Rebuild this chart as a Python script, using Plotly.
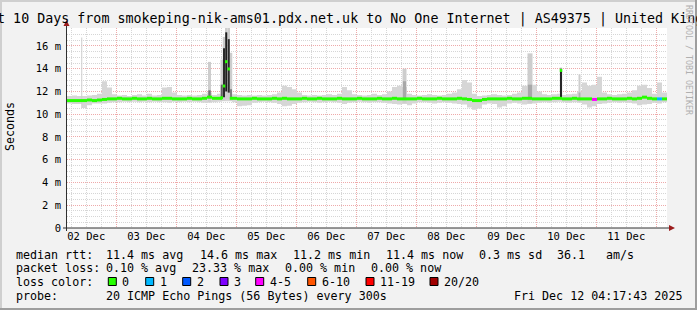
import pandas as pd
import plotly.graph_objects as go

# ---------------- data ----------------
T_START = pd.Timestamp("2025-12-02 04:17:43")
T_END = pd.Timestamp("2025-12-12 04:17:43")
BUCKET_HOURS = 2  # each value below covers a 2 hour consolidation step

# median rtt per 2h bucket (ms); None where the value is given by a spike row below
median_ms = [
    11.2, 11.2, 11.2, 11.2, 11.25, 11.2, 11.25, 11.3, 11.35, 11.35,
    11.4, 11.35, 11.35, 11.4, 11.35, 11.35, 11.4, 11.35, 11.35, 11.4,
    11.4, 11.35, 11.35, 11.35, 11.4, 11.35, 11.35, 11.4, 11.5, 11.4,
    11.4, None, None, 11.4, 11.35, 11.35, 11.35, 11.4, 11.35, 11.35,
    11.35, 11.4, 11.35, 11.4, 11.35, 11.35, 11.35, 11.4, 11.35, 11.35,
    11.4, 11.35, 11.35, 11.35, 11.4, 11.35, 11.35, 11.35, 11.4, 11.35,
    11.35, 11.35, 11.4, 11.35, 11.35, 11.4, 11.35, 11.35, 11.35, 11.35,
    11.4, 11.35, 11.35, 11.35, 11.4, 11.35, 11.35, 11.35, 11.4, 11.35,
    11.3, 11.2, 11.2, 11.3, 11.35, 11.35, 11.35, 11.35, 11.4, 11.35,
    11.35, 11.4, 11.4, 11.35, 11.35, 11.35, 11.35, 11.4, 11.4, 11.35,
    11.35, 11.4, 11.35, 11.35, 11.35, 11.3, 11.35, 11.35, 11.4, 11.35,
    11.35, 11.35, 11.4, 11.35, 11.4, 11.5, 11.4, 11.35, 11.35, 11.35,
]

# lowest / highest of the 20 pings per bucket (ms)
smoke_lo_ms = [
    10.95, 10.9, 10.9, 10.55, 10.8, 10.95, 10.95, 10.95, 11.0, 11.05,
    11.05, 11.1, 11.05, 11.1, 11.05, 11.1, 11.05, 11.1, 11.05, 11.05,
    11.0, 11.1, 11.05, 11.1, 11.05, 11.1, 11.05, 11.0, 11.0, 11.05,
    11.1, 11.15, 11.15, 11.05, 10.7, 10.75, 10.8, 11.0, 11.05, 11.1,
    11.05, 11.0, 10.9, 10.7, 10.75, 10.9, 11.0, 11.05, 11.1, 11.05,
    11.0, 11.05, 11.1, 11.05, 11.0, 10.9, 11.0, 11.05, 11.1, 11.05,
    11.0, 11.05, 11.05, 11.0, 10.95, 10.9, 10.85, 10.9, 10.8, 10.95,
    11.05, 11.05, 11.0, 10.95, 11.0, 11.05, 11.0, 10.95, 10.9, 10.85,
    10.6, 10.4, 10.5, 10.85, 10.95, 10.9, 10.6, 10.7, 10.95, 11.0,
    10.95, 10.85, 10.9, 10.95, 11.0, 11.05, 11.0, 11.05, 11.1, 11.05,
    11.0, 11.05, 11.0, 10.85, 10.6, 10.7, 10.9, 10.95, 11.0, 11.05,
    11.0, 11.05, 11.0, 10.95, 10.8, 10.85, 10.9, 11.0, 10.95, 11.05,
]
smoke_hi_ms = [
    11.6, 11.65, 11.6, 11.6, 11.65, 11.7, 11.8, 12.9, 12.35, 11.75,
    11.65, 11.7, 11.6, 11.7, 11.75, 11.65, 11.8, 11.65, 11.7, 12.35,
    12.4, 11.9, 11.7, 11.65, 11.7, 11.65, 11.7, 11.8, 11.9, 11.7,
    11.8, 11.9, 11.9, 11.75, 11.7, 11.65, 11.7, 11.65, 11.7, 11.65,
    11.7, 11.75, 11.9, 12.5, 12.4, 12.2, 11.9, 11.7, 11.65, 11.7,
    11.65, 11.7, 11.75, 11.7, 11.8, 12.4, 12.1, 11.75, 11.7, 11.65,
    11.7, 11.8, 11.7, 11.75, 12.0, 12.4, 12.5, 12.4, 11.8, 11.7,
    11.65, 11.7, 11.75, 11.7, 11.65, 11.7, 11.8, 11.9, 12.2, 13.0,
    12.8, 11.8, 11.6, 11.65, 11.7, 11.75, 11.7, 11.65, 11.7, 11.8,
    11.9, 12.5, 12.6, 12.6, 12.0, 11.75, 11.7, 11.75, 11.8, 11.7,
    11.75, 11.8, 12.0, 12.8, 12.5, 12.6, 13.3, 11.9, 11.75, 11.7,
    11.75, 11.8, 11.9, 12.1, 12.5, 12.6, 12.3, 11.8, 12.8, 11.9,
]

# lost pings (of 20) for the buckets that had loss
loss_bucket = [105, 118]
loss_pings = [5, 1]

# short spikes: hour offset from start, duration (h), ping range, dense core, median
spike_hour = [5.9, 57.0, 61.9, 62.8, 63.7, 64.7, 65.6, 135.0, 185.2, 197.6, 205.0]
spike_dur_h = [0.4, 1.2, 1.0, 1.0, 1.0, 1.0, 1.0, 1.6, 2.0, 1.0, 0.8]
spike_lo_ms = [10.55, 11.1, 11.2, 11.2, 11.3, 11.3, 11.2, 11.0, 11.0, 11.4, 11.1]
spike_hi_ms = [16.75, 14.6, 14.8, 16.8, 17.6, 17.6, 15.4, 14.0, 15.35, 14.1, 13.5]
spike_core_lo_ms = [None, 11.4, 11.4, 11.5, 12.0, 11.9, 11.4, 11.3, 11.3, 11.4, 11.3]
spike_core_hi_ms = [None, 12.1, 12.6, 15.8, 17.2, 16.6, 12.2, 12.9, 12.6, 14.0, 11.9]
spike_median_ms = [None, None, 11.45, 12.48, 14.62, 13.98, 11.4, None, None, 13.85, None]

y_tick_vals = [0, 2, 4, 6, 8, 10, 12, 14, 16]
y_tick_text = ["0", "2 m", "4 m", "6 m", "8 m", "10 m", "12 m", "14 m", "16 m"]

title_text = ("Last 10 Days from smokeping-nik-ams01.pdx.net.uk to No One Internet "
              "| AS49375 | United Kingdom")
stats_rtt = ["median rtt:", "11.4 ms avg", "14.6 ms max", "11.2 ms min",
             "11.4 ms now", "0.3 ms sd", "36.1", "am/s"]
stats_loss = ["packet loss:", "0.10 % avg", "23.33 % max", "0.00 % min", "0.00 % now"]
loss_labels = ["0", "1", "2", "3", "4-5", "6-10", "11-19", "20/20"]
loss_colors = ["#26ff00", "#00b8ff", "#0059ff", "#7e00ff", "#ff00ff", "#ff5500", "#ff0000", "#a10000"]
probe_text = "20 ICMP Echo Pings (56 Bytes) every 300s"
stamp_text = "Fri Dec 12 04:17:43 2025"

# ---------------- styles ----------------
spike_core_shade = [None, "#707070", "#606060", "#2a2a2a", "#1e1e1e", "#2a2a2a", "#808080",
                    "#a8a8a8", "#a8a8a8", "#262626", "#b0b0b0"]
SMOKE = "#d6d6d6"
SPIKE_OUTER = "#cdcdcd"
MEDIAN_WIDTH = 3

# ---------------- layout helpers ----------------
W, H = 697, 310
L, R, T, B = 67, 30, 28, 82
PW, PH = W - L - R, H - T - B
MONO = "DejaVu Sans Mono"


def px(x):
    return (x - L) / PW


def py(y):
    return (H - B - y) / PH


def loss_color(n):
    bounds = [0, 1, 2, 3, 5, 10, 19, 20]
    for b, c in zip(bounds, loss_colors):
        if n <= b:
            return c
    return loss_colors[-1]


n = len(median_ms)
step = pd.Timedelta(hours=BUCKET_HOURS)
b_start = [T_START + i * step for i in range(n)]

fig = go.Figure()

# light smoke band (step area between lowest and highest ping)
xs = b_start + [T_END]
fig.add_trace(go.Scatter(x=xs, y=smoke_lo_ms + [smoke_lo_ms[-1]], mode="lines",
                         line=dict(width=0, shape="hv"), hoverinfo="skip", showlegend=False))
fig.add_trace(go.Scatter(x=xs, y=smoke_hi_ms + [smoke_hi_ms[-1]], mode="lines",
                         line=dict(width=0, shape="hv"), fill="tonexty",
                         fillcolor=SMOKE, hoverinfo="skip", showlegend=False))

# spikes (rectangles in data space)
sp_t = [T_START + pd.Timedelta(hours=h) for h in spike_hour]
sp_half = [pd.Timedelta(hours=d / 2) for d in spike_dur_h]


def rect_trace(x0, x1, y0, y1, color):
    return go.Scatter(x=[x0, x1, x1, x0, x0], y=[y0, y0, y1, y1, y0], mode="lines",
                      line=dict(width=0), fill="toself", fillcolor=color,
                      hoverinfo="skip", showlegend=False)


for t, hw, lo, hi in zip(sp_t, sp_half, spike_lo_ms, spike_hi_ms):
    fig.add_trace(rect_trace(t - hw, t + hw, lo, hi, SPIKE_OUTER))
for t, hw, lo, hi, shade in zip(sp_t, sp_half, spike_core_lo_ms, spike_core_hi_ms, spike_core_shade):
    if lo is not None:
        fig.add_trace(rect_trace(t - hw * 0.8, t + hw * 0.8, lo, hi, shade))

# median: horizontal pieces per step (no vertical connectors), coloured by loss
loss_of = dict(zip(loss_bucket, loss_pings))
segs = {}
for i, (t, v) in enumerate(zip(b_start, median_ms)):
    if v is not None:
        segs.setdefault(loss_color(loss_of.get(i, 0)), []).append((t, t + step, v))
for t, hw, v in zip(sp_t, sp_half, spike_median_ms):
    if v is not None:
        segs.setdefault(loss_colors[0], []).append((t - hw, t + hw, v))
for col in [loss_colors[0]] + [c for c in segs if c != loss_colors[0]]:
    sx, sy = [], []
    for a, b, v in segs.get(col, []):
        sx += [a, b, None]
        sy += [v, v, None]
    fig.add_trace(go.Scatter(x=sx, y=sy, mode="lines", line=dict(color=col, width=MEDIAN_WIDTH),
                             hoverinfo="skip", showlegend=False))

grid_major = "#eeaaaa"
grid_minor = "#d6d6d6"

fig.update_xaxes(
    type="date", range=[T_START, T_END], tick0="2025-12-02 00:00:00", dtick=86400000,
    tickformat="%d %b", ticklabelmode="period", showgrid=True, gridcolor=grid_major,
    griddash="1px,1px", gridwidth=1, zeroline=False, showline=False, ticks="",
    tickfont=dict(family=MONO, size=10.5, color="#000"),
    minor=dict(dtick=6 * 3600 * 1000, tick0="2025-12-02 00:00:00", showgrid=True,
               gridcolor=grid_minor, griddash="1px,1px", gridwidth=1),
    fixedrange=True,
)
fig.update_yaxes(
    range=[0, 17.58], tickvals=y_tick_vals, ticktext=y_tick_text, showgrid=True,
    gridcolor=grid_major, griddash="1px,1px", gridwidth=1, zeroline=False, showline=False,
    ticks="", ticklabelstandoff=5, tickfont=dict(family=MONO, size=10.5, color="#000"),
    minor=dict(dtick=0.5, tick0=0, showgrid=True, gridcolor=grid_minor,
               griddash="1px,1px", gridwidth=1),
    fixedrange=True,
)

shapes = []
axis_col = "#303030"
arrow_col = "#9b1c1c"
shapes.append(dict(type="line", xref="paper", yref="paper", x0=px(66.5), x1=px(66.5),
                   y0=py(231), y1=py(24), line=dict(color=axis_col, width=1)))
shapes.append(dict(type="line", xref="paper", yref="paper", x0=px(63), x1=px(670),
                   y0=py(228), y1=py(228), line=dict(color=axis_col, width=1)))
shapes.append(dict(type="path", xref="paper", yref="paper",
                   path=f"M {px(63.5)} {py(26)} L {px(69.5)} {py(26)} L {px(66.5)} {py(20)} Z",
                   fillcolor=arrow_col, line=dict(width=0)))
shapes.append(dict(type="path", xref="paper", yref="paper",
                   path=f"M {px(669)} {py(225)} L {px(669)} {py(231)} L {px(675)} {py(228)} Z",
                   fillcolor=arrow_col, line=dict(width=0)))
shapes.append(dict(type="rect", xref="paper", yref="paper", x0=px(0), x1=px(697),
                   y0=py(0), y1=py(2), fillcolor="#cfcfcf", line=dict(width=0)))
shapes.append(dict(type="rect", xref="paper", yref="paper", x0=px(0), x1=px(2),
                   y0=py(0), y1=py(310), fillcolor="#cfcfcf", line=dict(width=0)))
shapes.append(dict(type="rect", xref="paper", yref="paper", x0=px(0), x1=px(697),
                   y0=py(308), y1=py(310), fillcolor="#9e9e9e", line=dict(width=0)))
shapes.append(dict(type="rect", xref="paper", yref="paper", x0=px(695), x1=px(697),
                   y0=py(0), y1=py(310), fillcolor="#9e9e9e", line=dict(width=0)))

annotations = []


def txt(s, x, y, size=11.67, anchor="left", color="#000", angle=0):
    annotations.append(dict(text=s, x=px(x), y=py(y), xref="paper", yref="paper",
                            xanchor=anchor, yanchor="middle", showarrow=False,
                            textangle=angle, borderpad=0, borderwidth=0,
                            font=dict(family=MONO, size=size, color=color)))


txt(title_text, 349.5, 19, size=13.33, anchor="center")
txt("Seconds", 10, 127, angle=-90, anchor="center")
txt("RRDTOOL / TOBI OETIKER", 689, 60, size=8.3, anchor="center", color="#b0b0b0", angle=90)

rtt_x = [16, 106, 199.5, 293, 386, 479, 557, 605.5]
for s, x in zip(stats_rtt, rtt_x):
    txt(s, x, 254.5)
loss_x = [16, 106, 191.5, 285, 371]
for s, x in zip(stats_loss, loss_x):
    txt(s, x, 268)
txt("loss color:", 16, 281.5)
sq_x = [108.3, 145.7, 182.7, 220, 255.7, 307.7, 366, 430]
for lab, col, x in zip(loss_labels, loss_colors, sq_x):
    shapes.append(dict(type="rect", xref="paper", yref="paper", x0=px(x), x1=px(x + 8),
                       y0=py(277.5), y1=py(285.5), fillcolor=col,
                       line=dict(color="#000", width=1)))
    txt(lab, x + 14, 281.5)
txt("probe:", 16, 295.5)
txt(probe_text, 106, 295.5)
txt(stamp_text, 681.5, 295.5, anchor="right")

fig.update_layout(
    width=W, height=H, margin=dict(l=L, r=R, t=T, b=B, autoexpand=False),
    paper_bgcolor="#f2f2f2", plot_bgcolor="#ffffff",
    shapes=shapes, annotations=annotations, showlegend=False,
)

fig.write_html("out.html", config={"displayModeBar": False})
